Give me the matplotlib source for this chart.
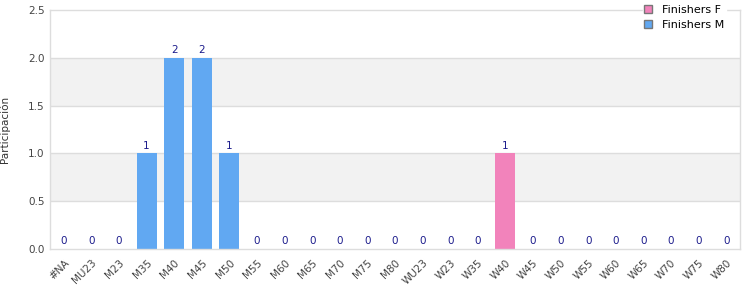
import numpy as np
import matplotlib.pyplot as plt
from matplotlib.patches import Patch

# Categories and values
categories = ['#NA', 'MU23', 'M23', 'M35', 'M40', 'M45', 'M50', 'M55', 'M60', 'M65',
              'M70', 'M75', 'M80', 'WU23', 'W23', 'W35', 'W40', 'W45', 'W50', 'W55',
              'W60', 'W65', 'W70', 'W75', 'W80']
finishers_m = [0, 0, 0, 1, 2, 2, 1, 0, 0, 0, 0, 0, 0, 0, 0, 0, 0, 0, 0, 0, 0, 0, 0, 0, 0]
finishers_f = [0, 0, 0, 0, 0, 0, 0, 0, 0, 0, 0, 0, 0, 0, 0, 0, 1, 0, 0, 0, 0, 0, 0, 0, 0]

blue = '#61a8f2'
pink = '#f283bb'
grid_col = '#dddddd'

fig = plt.figure(figsize=(7.5, 3), dpi=100)
ax = fig.add_axes([0.0667, 0.17, 0.92, 0.7967])

x = np.arange(len(categories))
m = np.array(finishers_m)
f = np.array(finishers_f)

# alternating bands
for i, lo in enumerate(np.arange(0, 2.5, 0.5)):
    if i % 2 == 1:
        ax.axhspan(lo, lo + 0.5, color='#f2f2f2', zorder=0, lw=0)
for yv in np.arange(0.5, 2.5, 0.5):
    ax.axhline(yv, color=grid_col, lw=1, zorder=0.5)

ax.bar(x, m, width=0.72, color=blue, zorder=2)
ax.bar(x, f, width=0.72, bottom=m, color=pink, zorder=2)

totals = m + f
for xi, t in zip(x, totals):
    ax.text(xi, t + 0.03, str(t), ha='center', va='bottom', fontsize=7.5,
            color='#1c1c8c', zorder=3)

ax.set_xlim(-0.5, len(categories) - 0.5)
ax.set_ylim(0, 2.5)
ax.set_yticks(np.arange(0, 2.51, 0.5))
ax.set_yticklabels(['{:.1f}'.format(v) for v in np.arange(0, 2.51, 0.5)])
ax.set_xticks(x)
ax.set_xticklabels(categories, rotation=45, ha='right', rotation_mode='anchor')
ax.tick_params(axis='both', length=0, labelsize=7.5, colors='#444444', pad=4)
ax.tick_params(axis='x', pad=6)
ax.set_ylabel('Participación', fontsize=7.5, color='#333333', labelpad=13)

for s in ax.spines.values():
    s.set_color(grid_col)
    s.set_linewidth(1)

handles = [Patch(facecolor=pink, edgecolor='#777777', label='Finishers F'),
           Patch(facecolor=blue, edgecolor='#777777', label='Finishers M')]
leg = ax.legend(handles=handles, loc='upper right', bbox_to_anchor=(0.988, 1.052),
                fontsize=8, frameon=True, handlelength=0.7, handleheight=0.7,
                borderpad=0.15, labelspacing=0.45, handletextpad=0.9)
leg.get_frame().set_edgecolor('white')
leg.get_frame().set_alpha(1)
leg.get_frame().set_boxstyle('square', pad=0)
leg.set_zorder(5)

fig.savefig('out.png', dpi=100)
